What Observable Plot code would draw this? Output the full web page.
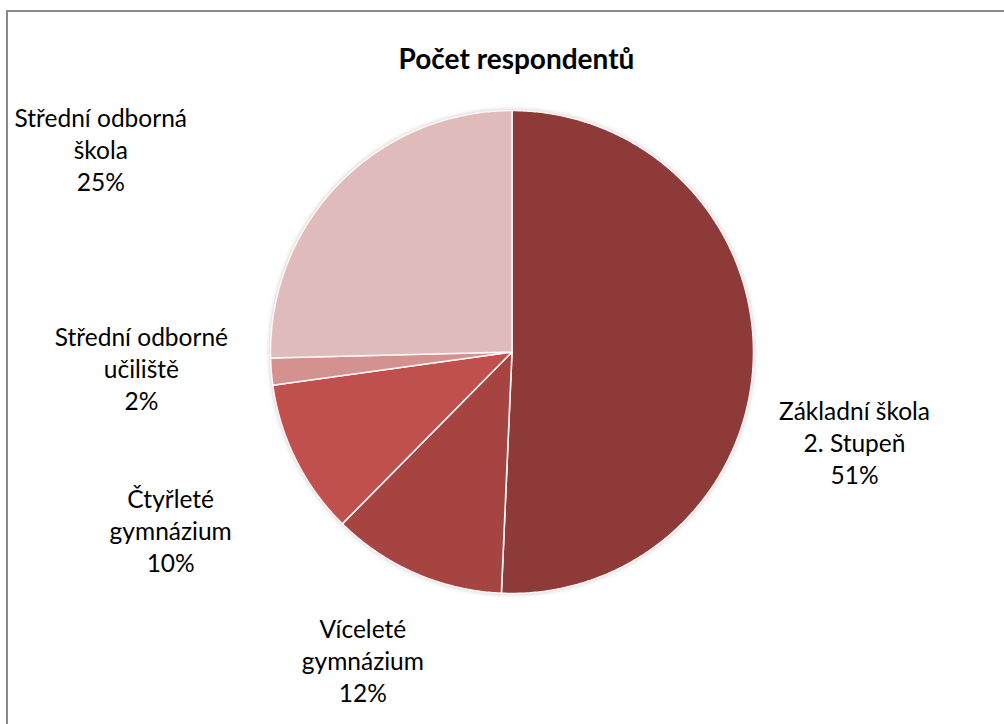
<!DOCTYPE html>
<html><head><meta charset="utf-8">
<script src="https://cdn.jsdelivr.net/npm/d3@7"></script>
<script src="https://cdn.jsdelivr.net/npm/@observablehq/plot@0.6"></script>
<style>
html,body{margin:0;padding:0;background:#fff;overflow:hidden;width:1004px;height:724px;}
#frame{position:absolute;left:6px;top:10px;width:1100px;height:800px;border:2px solid #8a8a8a;}
#title{position:absolute;left:0;top:42px;width:1033px;text-align:center;font-family:Lato;font-weight:bold;font-size:28px;line-height:32px;color:#000;}
#chart{position:absolute;left:0;top:0;}
#chart svg g[aria-label="line"]{filter:drop-shadow(0 0 2px rgba(0,0,0,0.22));}
</style></head><body>
<div id="frame"></div>
<div id="chart"></div>
<div id="title">Počet respondentů</div>
<script>
// ---- data ----
const categories = ["Základní škola 2. Stupeň", "Víceleté gymnázium", "Čtyřleté gymnázium", "Střední odborné učiliště", "Střední odborná škola"];
const values = [50.7, 11.7, 10.4, 1.8, 25.4];
const percentLabels = ["51%", "12%", "10%", "2%", "25%"];
const labelLines = [["Základní škola", "2. Stupeň"], ["Víceleté", "gymnázium"], ["Čtyřleté", "gymnázium"], ["Střední odborné", "učiliště"], ["Střední odborná", "škola"]];
const colors = ["#8E3A38", "#A64442", "#C0504D", "#D39290", "#DFBBBB"];

// ---- label layout (relative to each slice's mid-angle, in pie radii) ----
const labelAngleShift = [13.4, 2.3, -0.9, 2.2, -18.0];
const labelRadius = [1.466, 1.415, 1.594, 1.536, 1.899];

const cx = 511.5, cy = 351.5, R = 241.5;

const arcs = d3.pie().sort(null).value(d => d)(values);
const slicePts = [];
arcs.forEach((p, i) => {
  const n = Math.max(2, Math.ceil((p.endAngle - p.startAngle) / (Math.PI / 360)));
  slicePts.push({name: categories[i], x: 0, y: 0});
  for (let k = 0; k <= n; k++) {
    const a = p.startAngle + (p.endAngle - p.startAngle) * k / n;
    slicePts.push({name: categories[i], x: Math.sin(a), y: Math.cos(a)});
  }
  slicePts.push({name: categories[i], x: 0, y: 0});
});
const labels = arcs.map((p, i) => {
  const a = (p.startAngle + p.endAngle) / 2 + labelAngleShift[i] * Math.PI / 180;
  return {x: labelRadius[i] * Math.sin(a), y: labelRadius[i] * Math.cos(a), text: [...labelLines[i], percentLabels[i]].join("\n")};
});

const chart = Plot.plot({
  width: 1004, height: 724, margin: 0,
  x: {domain: [-1, 1], range: [cx - R, cx + R], axis: null},
  y: {domain: [-1, 1], range: [cy + R, cy - R], axis: null},
  color: {domain: categories, range: colors},
  style: {background: "transparent", fontFamily: "Lato"},
  marks: [
    Plot.line(slicePts, {x: "x", y: "y", z: "name", fill: "name", stroke: "#fff5f5", strokeWidth: 1.6, strokeLinejoin: "round", curve: "linear"}),
    Plot.text(labels, {x: "x", y: "y", text: "text", fontSize: 24.5, lineHeight: 1.31, fill: "#000", textAnchor: "middle", lineAnchor: "middle"})
  ]
});
document.getElementById("chart").appendChild(chart);
</script>
</body></html>
